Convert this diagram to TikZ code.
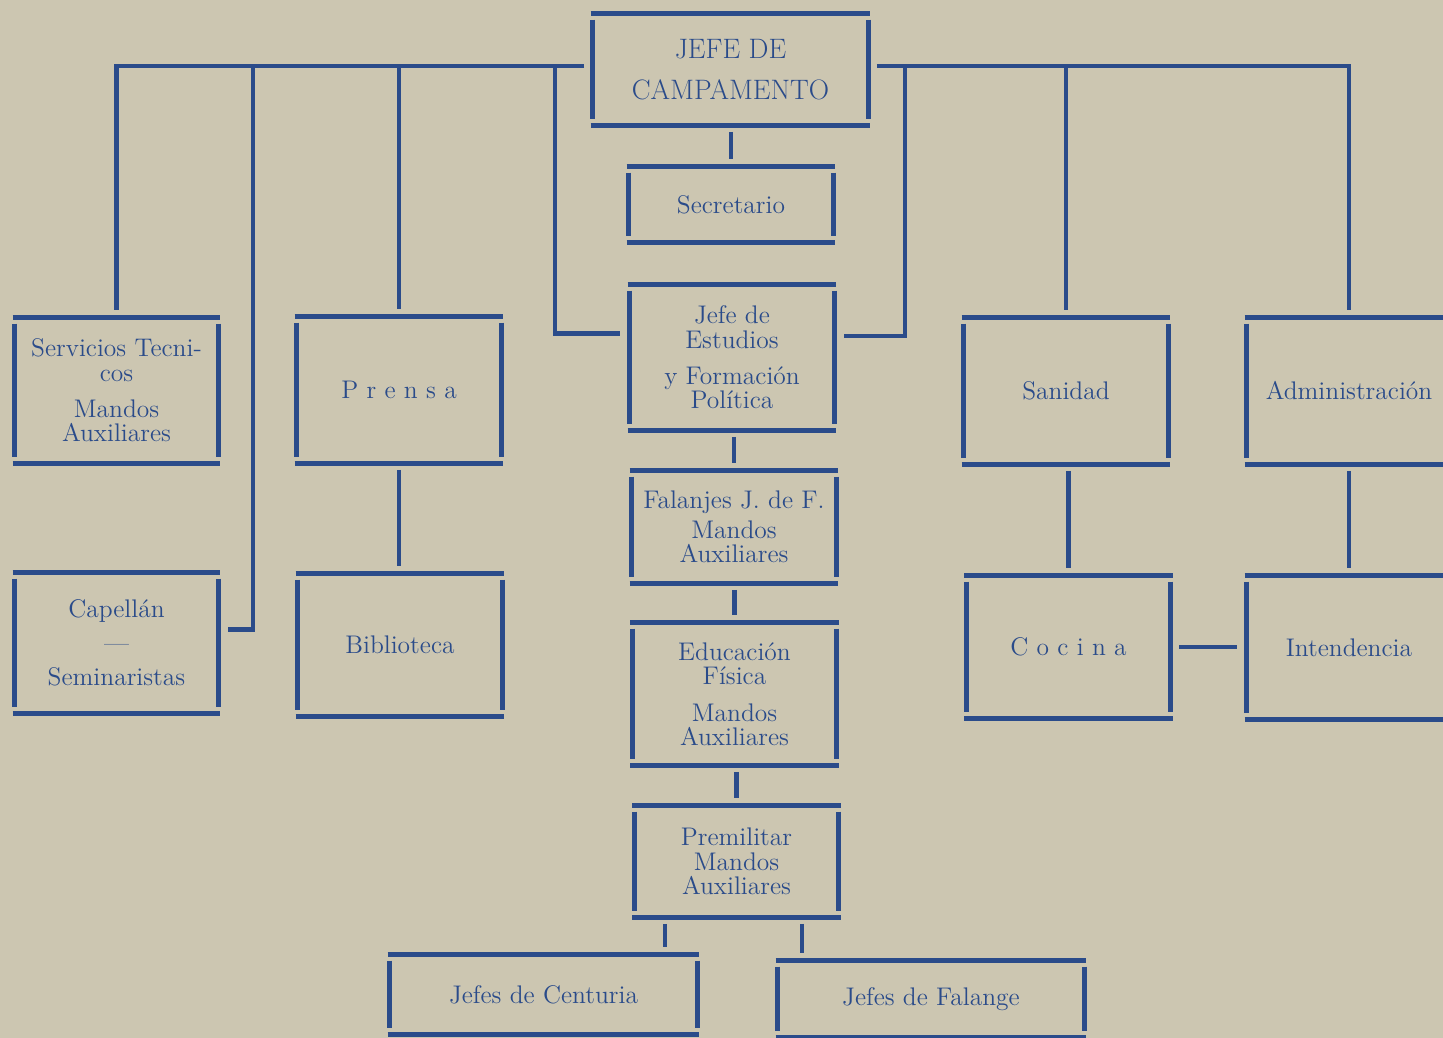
\documentclass[tikz,border=0pt]{standalone}
\usepackage{amssymb,amsmath}

\definecolor{paper}{HTML}{CCC6B1}
\definecolor{ink}{HTML}{2A4B8A}

\tikzset{
 unit/.style={inner sep=0pt, minimum width=4.16cm, align=center, text=ink,
   font=\fontsize{14.5}{13.8}\selectfont},
 rule/.style={draw=ink, line width=2.8pt},
 wire/.style={rule, shorten <=1.3mm, shorten >=1.5mm},
 drop/.style={rule, shorten >=1.5mm},
}
% four loose strokes round a node
\newcommand\ruledbox[1]{%
 \draw[rule] (#1.north west) -- (#1.north east);
 \draw[rule] (#1.south west) -- (#1.south east);
 \draw[rule] ([shift={(0.04,-0.12)}]#1.north west) -- ([shift={(0.04,0.12)}]#1.south west);
 \draw[rule] ([shift={(-0.04,-0.12)}]#1.north east) -- ([shift={(-0.04,0.12)}]#1.south east);}

\begin{document}
\begin{tikzpicture}
 \clip (0,0) rectangle (28.86,-20.76);
 \fill[paper] (0,0) rectangle (28.86,-20.76);

 % middle column
 \node[unit, minimum width=5.58cm, minimum height=2.22cm, font=\fontsize{16}{23}\selectfont] (chief) at (14.61,-1.39) {JEFE DE\\CAMPAMENTO};
 \node[unit, minimum height=1.5cm] (secr) at (14.62,-4.09) {Secretario};
 \node[unit, minimum height=2.9cm] (studies) at (14.64,-7.15) {Jefe de\\Estudios\\[7pt]y Formación\\Política};
 \node[unit, minimum height=2.24cm] (falanjes) at (14.68,-10.54) {Falanjes J. de F.\\[3pt]Mandos\\Auxiliares};
 \node[unit, minimum height=2.84cm] (edfis) at (14.69,-13.88) {Educación\\Física\\[7pt]Mandos\\Auxiliares};
 \node[unit, minimum height=2.22cm] (premil) at (14.73,-17.23) {Premilitar\\Mandos\\Auxiliares};
 \node[unit, minimum width=6.22cm, minimum height=1.58cm] (centuria) at (10.87,-19.89) {Jefes de Centuria};
 \node[unit, minimum width=6.2cm, minimum height=1.52cm] (falange) at (18.62,-19.98) {Jefes de Falange};

 % left side
 \node[unit, minimum width=4.14cm, minimum height=2.9cm] (tecnicos) at (2.33,-7.81) {Servicios Tecni-\\cos\\[7pt]Mandos\\Auxiliares};
 \node[unit, minimum height=2.92cm] (prensa) at (7.98,-7.8) {P r e n s a};
 \node[unit, minimum width=4.14cm, minimum height=2.8cm] (capellan) at (2.33,-12.86) {Capellán\\[5.5pt]---\\[5.5pt]Seminaristas};
 \node[unit, minimum height=2.84cm] (biblio) at (8.0,-12.9) {Biblioteca};

 % right side
 \node[unit, minimum height=2.92cm] (sanidad) at (21.32,-7.82) {Sanidad};
 \node[unit, minimum height=2.92cm] (admin) at (26.98,-7.82) {Administración};
 \node[unit, minimum height=2.84cm] (cocina) at (21.37,-12.94) {C o c i n a};
 \node[unit, minimum height=2.86cm] (intend) at (26.98,-12.95) {Intendencia};

 \foreach \b in {chief,secr,studies,falanjes,edfis,premil,centuria,falange,
   tecnicos,prensa,capellan,biblio,sanidad,admin,cocina,intend}
   {\ruledbox{\b}}

 % buses out of the chief's box
 \coordinate (hubL) at ([yshift=0.07cm]chief.west);
 \coordinate (hubR) at ([yshift=0.07cm]chief.east);
 \coordinate (laneL) at (5.06,0);
 \coordinate (laneM) at (11.1,0);
 \coordinate (laneR) at (18.1,0);
 \coordinate (dropA) at (13.3,0);
 \coordinate (dropB) at (16.04,0);

 \draw[wire] (hubL) -- (tecnicos.north |- hubL) -- (tecnicos.north);
 \draw[drop] (prensa.north |- hubL) -- (prensa.north);
 \draw[drop] (laneL |- hubL) -- ([yshift=.27cm]capellan.east -| laneL) -- ([yshift=.27cm]capellan.east);
 \draw[drop] (laneM |- hubL) -- ([yshift=.48cm]studies.west -| laneM) -- ([yshift=.48cm]studies.west);

 \draw[wire] (hubR) -- (admin.north |- hubR) -- (admin.north);
 \draw[drop] (sanidad.north |- hubR) -- (sanidad.north);
 \draw[drop] (laneR |- hubR) -- ([yshift=.43cm]studies.east -| laneR) -- ([yshift=.43cm]studies.east);

 % down the middle
 \draw[wire] (secr.north |- chief.south) -- (secr.north);
 \draw[wire] (falanjes.north |- studies.south) -- (falanjes.north);
 \draw[wire] (edfis.north |- falanjes.south) -- (edfis.north);
 \draw[wire] (premil.north |- edfis.south) -- (premil.north);
 \draw[wire] (premil.south -| dropA) -- (centuria.north -| dropA);
 \draw[wire] (premil.south -| dropB) -- (falange.north -| dropB);

 \draw[wire] (prensa.south) -- (prensa.south |- biblio.north);
 \draw[wire] (cocina.north |- sanidad.south) -- (cocina.north);
 \draw[wire] (admin.south) -- (intend.north);
 \draw[wire] (cocina.east) -- (cocina.east -| intend.west);
\end{tikzpicture}
\end{document}
